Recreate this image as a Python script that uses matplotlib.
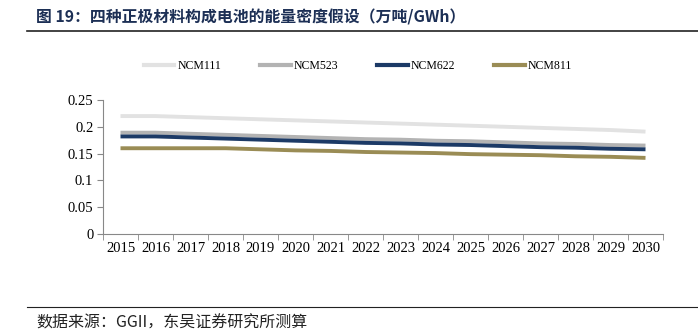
import matplotlib
matplotlib.use("Agg")
import matplotlib.pyplot as plt
from matplotlib.lines import Line2D

years = [str(y) for y in range(2015, 2031)]
ncm111 = [0.220, 0.220, 0.218, 0.216, 0.214, 0.212, 0.210, 0.208, 0.206, 0.204, 0.202, 0.200, 0.198, 0.196, 0.194, 0.191]
ncm523 = [0.189, 0.189, 0.187, 0.185, 0.183, 0.181, 0.179, 0.177, 0.176, 0.174, 0.173, 0.171, 0.169, 0.168, 0.166, 0.165]
ncm622 = [0.182, 0.182, 0.180, 0.178, 0.176, 0.174, 0.172, 0.170, 0.169, 0.167, 0.166, 0.164, 0.162, 0.161, 0.159, 0.158]
ncm811 = [0.160, 0.160, 0.160, 0.160, 0.158, 0.156, 0.155, 0.153, 0.152, 0.151, 0.149, 0.148, 0.147, 0.145, 0.144, 0.142]
series_names = ["NCM111", "NCM523", "NCM622", "NCM811"]
yticks = [0, 0.05, 0.1, 0.15, 0.2, 0.25]
ytick_labels = ["0", "0.05", "0.1", "0.15", "0.2", "0.25"]

colors = ["#e2e2e2", "#b3b3b3", "#1c3a66", "#9a8c55"]
title = "图 19：四种正极材料构成电池的能量密度假设（万吨/GWh）"
source = "数据来源：GGII，东吴证券研究所测算"

serif = ["Liberation Serif", "DejaVu Serif"]
cjk = ["Noto Sans CJK SC", "DejaVu Sans"]

fig = plt.figure(figsize=(6.98, 3.30), dpi=100)
ax = fig.add_axes([103 / 698, 1 - 234 / 330, 560 / 698, 134 / 330])

x = list(range(len(years)))
for vals, c in zip([ncm111, ncm523, ncm622, ncm811], colors):
    ax.plot(x, vals, color=c, lw=2.8, solid_capstyle="butt")

ax.set_xlim(-0.5, len(years) - 0.5)
ax.set_ylim(0, 0.25)
ax.set_yticks(yticks)
ax.set_yticklabels(ytick_labels, fontfamily=serif, fontsize=10.5)
ax.set_xticks(x)
ax.set_xticklabels(years, fontfamily=serif, fontsize=10.5)
ax.tick_params(axis="x", which="major", length=0, pad=6)
ax.set_xticks([i - 0.5 for i in range(len(years) + 1)], minor=True)
ax.tick_params(axis="x", which="minor", length=4, color="#888888")
ax.tick_params(axis="y", length=4, color="#888888", pad=3)
for s in ["top", "right"]:
    ax.spines[s].set_visible(False)
for s in ["left", "bottom"]:
    ax.spines[s].set_color("#888888")
    ax.spines[s].set_linewidth(0.8)

handles = [Line2D([0], [0], color=c, lw=3) for c in colors]
fig.legend(handles, series_names, loc="center", bbox_to_anchor=(358 / 698, 1 - 66 / 330),
           ncol=4, frameon=False, prop={"family": serif, "size": 8.5},
           handlelength=2.6, handletextpad=0.25, columnspacing=3.3)

fig.text(36 / 698, 1 - 17 / 330, title, fontfamily=cjk, fontsize=11.4, fontweight="bold",
         color="#1c2f55", va="center", ha="left")
fig.add_artist(Line2D([27 / 698, 1.0], [1 - 31 / 330] * 2, color="#222222", lw=1.2))
fig.add_artist(Line2D([27 / 698, 1.0], [1 - 307 / 330] * 2, color="#222222", lw=0.8))
fig.text(36 / 698, 1 - 323 / 330, source, fontfamily=cjk, fontsize=11.5,
         color="#222222", va="center", ha="left")

fig.savefig("out.png", dpi=100)
